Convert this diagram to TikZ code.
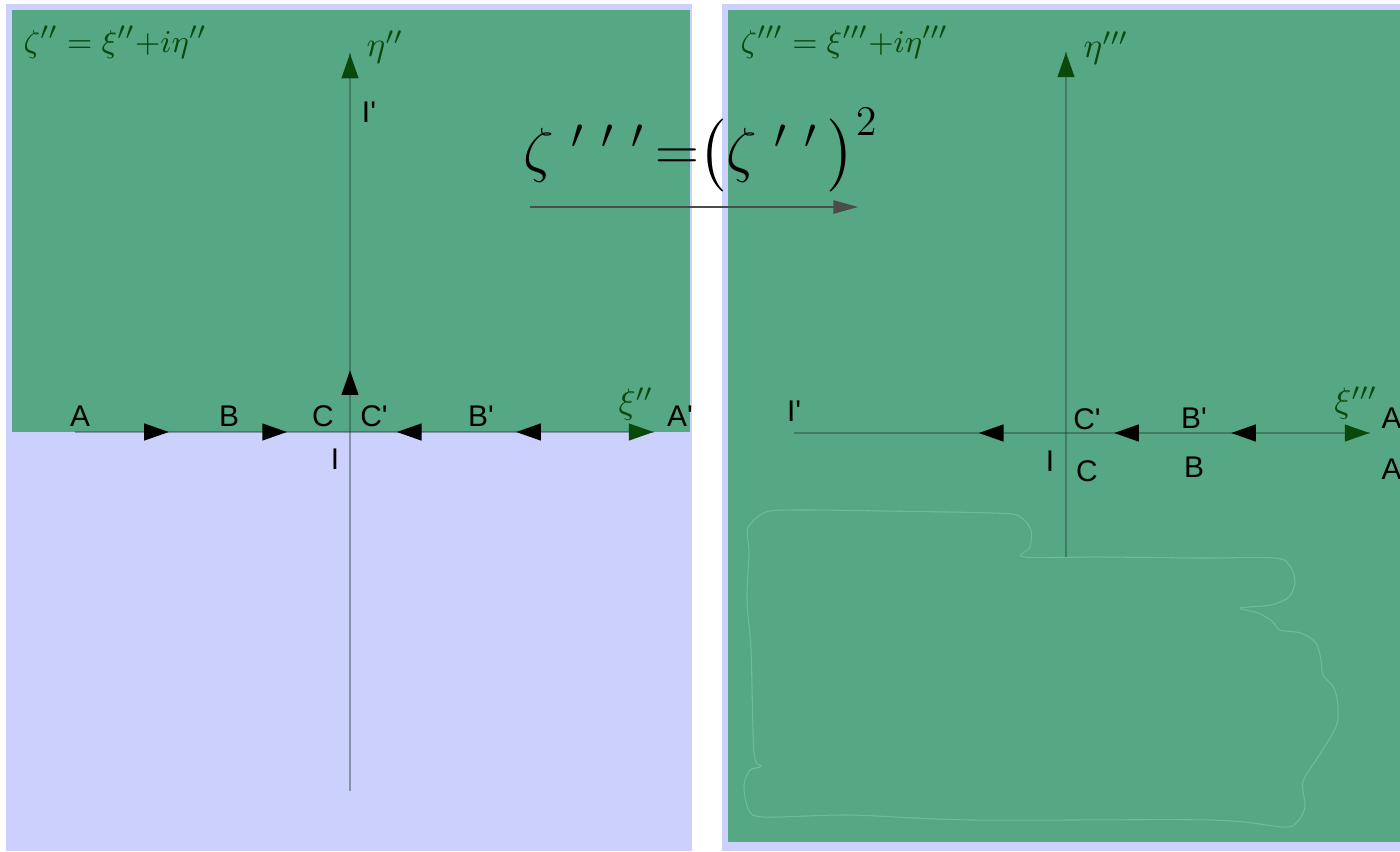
\documentclass[tikz,border=0pt]{standalone}
\usepackage{amsmath}
\usepackage{fontspec}
\usepackage{xcolor}
\newfontfamily\lblfont{Liberation Sans}
\usetikzlibrary{arrows.meta,decorations.markings}

\definecolor{planegreen}{RGB}{85,168,131}
\definecolor{planeblue}{RGB}{204,208,252}
\definecolor{textgreen}{RGB}{10,72,12}
\definecolor{rimgreen}{RGB}{112,188,152}
\definecolor{axisgray}{RGB}{30,60,50}
\newcommand{\primetick}{{}^{\prime}}

\begin{document}
\begin{tikzpicture}[
    x=0.01cm, y=-0.01cm,
    axtip/.tip={Triangle[length=7pt, width=4.8pt]},
    lbl/.style={font=\lblfont\fontsize{8.5}{10}\selectfont, inner sep=0pt},
    mlbl/.style={text=textgreen, font=\fontsize{10}{12}\selectfont, inner sep=0pt},
    title/.style={text=textgreen, font=\fontsize{9.3}{11}\selectfont, inner sep=0pt, anchor=west},
    axis/.style={draw=axisgray, draw opacity=0.4, line width=0.45pt, postaction={decorate}},
    maparrow/.style={-{Triangle[length=7pt, width=3.8pt]}, draw=black!70, line width=0.35pt}
]
\useasboundingbox (0,0) rectangle (1400,851);
% the two planes
\fill[white] (0,0) rectangle (1400,851);
\fill[planeblue] (6,4) rectangle (692,851);
\fill[planegreen] (12,10) rectangle (690,432);
\fill[planeblue] (722,4) rectangle (1400,851);
\fill[planegreen] (728,10) rectangle (1400,842);
\draw[rimgreen, line width=0.3pt] plot[smooth cycle, tension=0.5] coordinates {
    (766,512) (800,510) (885,511) (993,513) (1019,516) (1031,530) (1030,547) (1024,557)
    (1100,557) (1200,558) (1275,558) (1290,566) (1295,582) (1289,597) (1271,605) (1240,608)
    (1258,613) (1272,621) (1280,630) (1301,633) (1316,643) (1321,660) (1323,675) (1334,688)
    (1338,707) (1336,727) (1318,757) (1303,782) (1305,807) (1297,822) (1283,827) (1210,820)
    (972,820) (850,815) (763,817) (748,808) (744,785) (750,770) (761,766) (754,753)
    (751,650) (747,600) (749,553) (748,528)};

% left plane
\coordinate (lxs) at (75,432);
\coordinate (lxe) at (654,432);
\coordinate (lys) at (350,791);
\coordinate (lye) at (350,53);
\draw[axis, decoration={markings,
    mark=at position 0.162 with {\arrow[black, opacity=1]{axtip}},
    mark=at position 0.366 with {\arrow[black, opacity=1]{axtip}},
    mark=at position 0.556 with {\arrowreversed[black, opacity=1]{axtip}},
    mark=at position 0.762 with {\arrowreversed[black, opacity=1]{axtip}},
    mark=at position 0.999 with {\arrow[textgreen, opacity=1]{axtip}}}]
    (lxs) -- (lxe);
\draw[axis, decoration={markings,
    mark=at position 0.570 with {\arrow[black, opacity=1]{axtip}},
    mark=at position 0.999 with {\arrow[textgreen, opacity=1]{axtip}}}]
    (lys) -- (lye);

\node[title] (ltitle) at (23,42) {$\zeta''=\xi''{+}i\eta''$};
\node[mlbl, anchor=west] (leta) at (366,47) {$\eta''$};
\node[mlbl] (lxi) at (636,404) {$\xi''$};
\node[lbl] (la) at (80,416) {A};
\node[lbl] (lb) at (229,416) {B};
\node[lbl] (lc) at (323,416) {C};
\node[lbl] (lcp) at (374,416) {C\textquotesingle};
\node[lbl] (lbp) at (481,416) {B\textquotesingle};
\node[lbl] (lap) at (680,416) {A\textquotesingle};
\node[lbl] (li) at (335,459) {I};
\node[lbl] (lip) at (369,112) {I\textquotesingle};

% the mapping
\node[font=\fontsize{18}{22}\selectfont, inner sep=0pt] (map) at (701,150)
    {$\zeta\;\primetick\;\primetick\;\primetick\,{=}\bigl(\zeta\;\primetick\;\primetick\,\bigr)^{2}$};
\coordinate (ms) at (530,207);
\coordinate (me) at (858,207);
\draw[maparrow] (ms) -- (me);

% right plane
\coordinate (rxs) at (794,433);
\coordinate (rxe) at (1370,433);
\coordinate (rys) at (1066,557);
\coordinate (rye) at (1066,52);
\draw[axis, decoration={markings,
    mark=at position 0.321 with {\arrowreversed[black, opacity=1]{axtip}},
    mark=at position 0.556 with {\arrowreversed[black, opacity=1]{axtip}},
    mark=at position 0.759 with {\arrowreversed[black, opacity=1]{axtip}},
    mark=at position 0.999 with {\arrow[textgreen, opacity=1]{axtip}}}]
    (rxs) -- (rxe);
\draw[axis, decoration={markings,
    mark=at position 0.999 with {\arrow[textgreen, opacity=1]{axtip}}}]
    (rys) -- (rye);

\node[title] (rtitle) at (740,42) {$\zeta'''=\xi'''{+}i\eta'''$};
\node[mlbl, anchor=west] (reta) at (1083,48) {$\eta'''$};
\node[mlbl] (rxi) at (1356,403) {$\xi'''$};
\node[lbl] (rip) at (794,411) {I\textquotesingle};
\node[lbl] (rcp) at (1087,419) {C\textquotesingle};
\node[lbl] (rbp) at (1194,418) {B\textquotesingle};
\node[lbl, anchor=west] (rap) at (1381,418) {A};
\node[lbl] (ri) at (1050,461) {I};
\node[lbl] (rc) at (1087,471) {C};
\node[lbl] (rb) at (1194,467) {B};
\node[lbl, anchor=west] (ra) at (1381,469) {A};
\end{tikzpicture}
\end{document}
